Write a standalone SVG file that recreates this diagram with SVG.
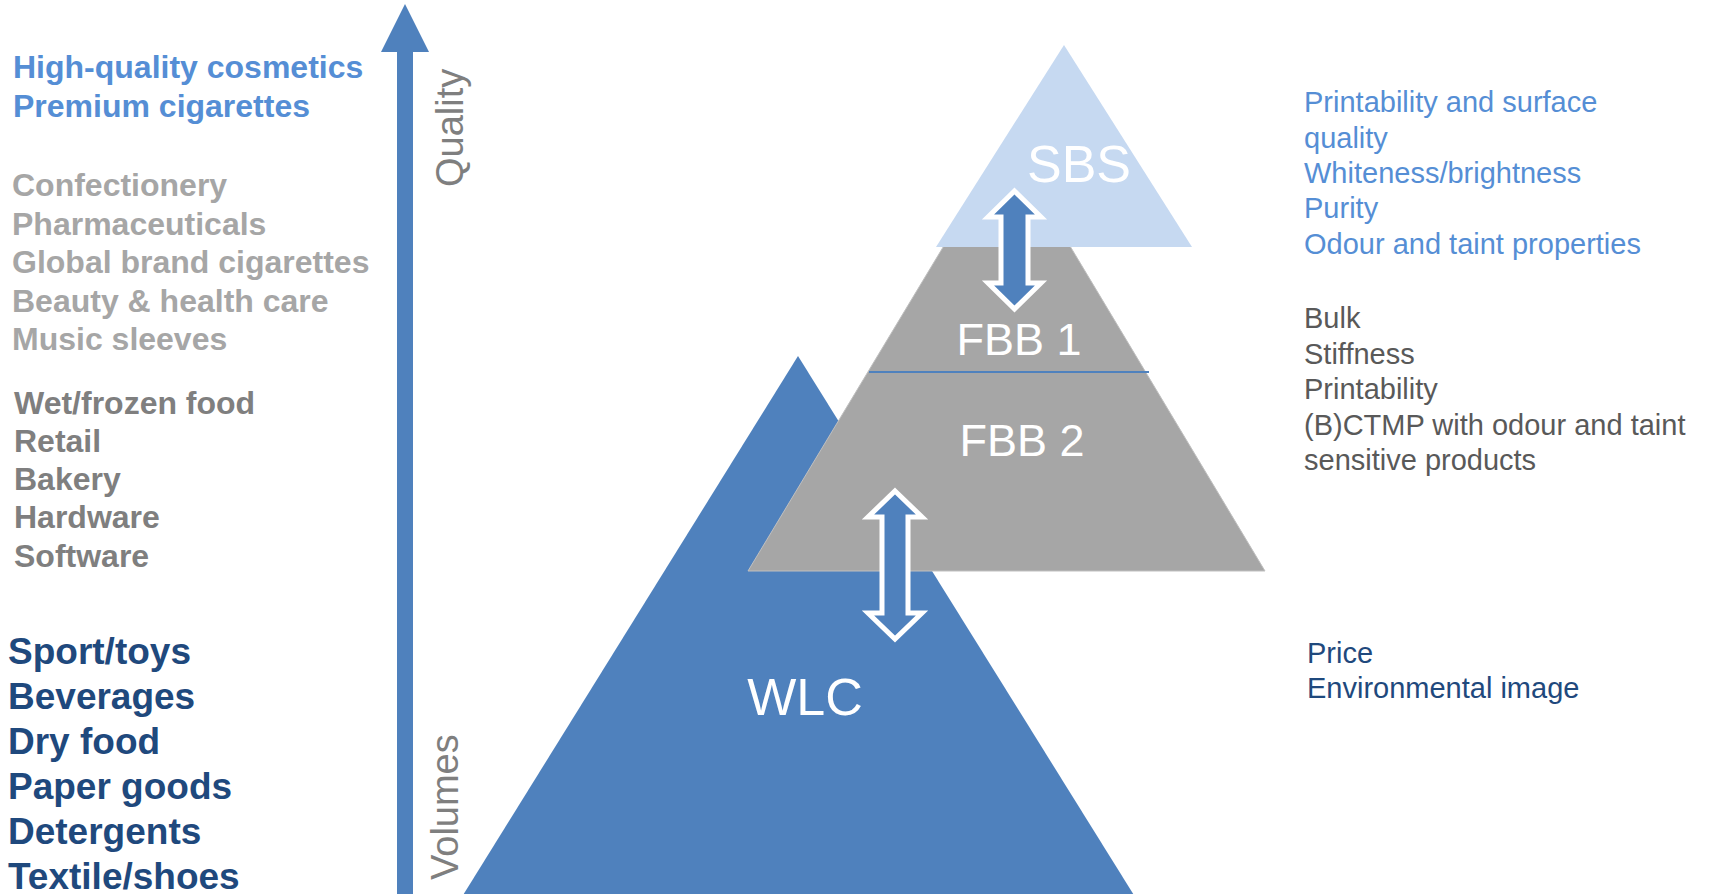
<svg xmlns="http://www.w3.org/2000/svg" width="1709" height="894" viewBox="0 0 1709 894">
<style>
text{font-family:"Liberation Sans",Arial,sans-serif}
.b{font-weight:bold;font-size:32px}
.b37{font-weight:bold;font-size:37px;fill:#1f497d}
.r{font-size:29px}
.lb{fill:#558ed5}
.lg{fill:#a6a6a6}
.dg{fill:#7f7f7f}
.rg{fill:#595959}
.db{fill:#1f497d}
.axis{font-size:38px;fill:#7f7f7f}
.lbl{fill:#ffffff;text-anchor:middle}
.dbl{fill:#4f81bd;stroke:#ffffff;stroke-width:5;stroke-linejoin:miter}
</style>
<rect width="1709" height="894" fill="#ffffff"/>
<g id="wlc">
<polygon points="798,356 460,900 1137,900" fill="#4f81bd"/>
<text class="lbl" x="805" y="715" font-size="52">WLC</text>
</g>
<g id="fbb">
<polygon points="1007,141 748,571 1265,571" fill="#a6a6a6" stroke="#c0c0c0" stroke-width="1"/>
<line x1="869" y1="372" x2="1149" y2="372" stroke="#4f81bd" stroke-width="2"/>
<text class="lbl" x="1019" y="355" font-size="45">FBB 1</text>
<text class="lbl" x="1022" y="456" font-size="45">FBB 2</text>
</g>
<g id="sbs">
<polygon points="1064,45 936,247 1192,247" fill="#c6d9f1"/>
<text class="lbl" x="1079" y="182" font-size="52">SBS</text>
</g>
<g id="connectors">
<polygon class="dbl" points="1014.5,191 1041,217 1028,217 1028,283 1041,283 1014.5,309 988,283 1001,283 1001,217 988,217"/>
<polygon class="dbl" points="895,491 922,517 908,517 908,613 922,613 895,639 868,613 882,613 882,517 868,517"/>
<polygon points="405,4 429,52 413,52 413,894 397,894 397,52 381,52" fill="#4f81bd"/>
</g>
<g id="axis-labels">
<text class="axis" transform="translate(463,187) rotate(-90)">Quality</text>
<text class="axis" transform="translate(458,880) rotate(-90)">Volumes</text>
</g>
<g id="left-top">
<text class="b lb" x="13" y="78">High-quality cosmetics</text>
<text class="b lb" x="13" y="117">Premium cigarettes</text>
</g>
<g id="left-mid">
<text class="b lg" x="12" y="196">Confectionery</text>
<text class="b lg" x="12" y="234.5">Pharmaceuticals</text>
<text class="b lg" x="12" y="273">Global brand cigarettes</text>
<text class="b lg" x="12" y="311.5">Beauty &amp; health care</text>
<text class="b lg" x="12" y="350">Music sleeves</text>
</g>
<g id="left-low">
<text class="b dg" x="14" y="413.5">Wet/frozen food</text>
<text class="b dg" x="14" y="452">Retail</text>
<text class="b dg" x="14" y="490">Bakery</text>
<text class="b dg" x="14" y="528">Hardware</text>
<text class="b dg" x="14" y="567">Software</text>
</g>
<g id="left-bottom">
<text class="b37" x="8" y="664">Sport/toys</text>
<text class="b37" x="8" y="709">Beverages</text>
<text class="b37" x="8" y="754">Dry food</text>
<text class="b37" x="8" y="799">Paper goods</text>
<text class="b37" x="8" y="844">Detergents</text>
<text class="b37" x="8" y="889">Textile/shoes</text>
</g>
<g id="right-sbs">
<text class="r lb" x="1304" y="112">Printability and surface</text>
<text class="r lb" x="1304" y="147.5">quality</text>
<text class="r lb" x="1304" y="183">Whiteness/brightness</text>
<text class="r lb" x="1304" y="218">Purity</text>
<text class="r lb" x="1304" y="253.5">Odour and taint properties</text>
</g>
<g id="right-fbb">
<text class="r rg" x="1304" y="328">Bulk</text>
<text class="r rg" x="1304" y="363.5">Stiffness</text>
<text class="r rg" x="1304" y="399">Printability</text>
<text class="r rg" x="1304" y="434.5">(B)CTMP with odour and taint</text>
<text class="r rg" x="1304" y="470">sensitive products</text>
</g>
<g id="right-wlc">
<text class="r db" x="1307" y="662.5">Price</text>
<text class="r db" x="1307" y="697.5">Environmental image</text>
</g>
</svg>
